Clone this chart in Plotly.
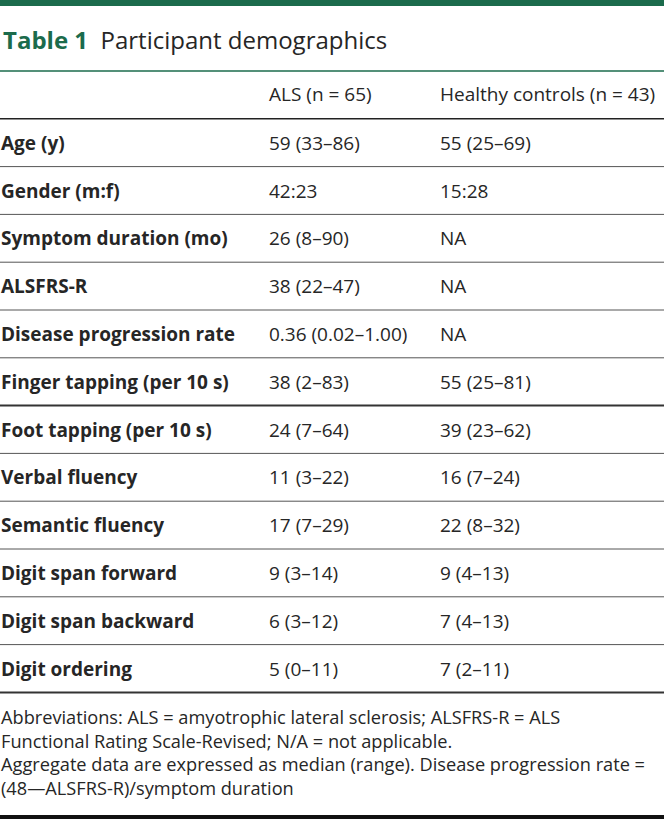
import plotly.graph_objects as go

# table content
title_num = "Table 1"
title_text = "Participant demographics"
columns = ["", "ALS (n = 65)", "Healthy controls (n = 43)"]
row_labels = [
    "Age (y)", "Gender (m:f)", "Symptom duration (mo)", "ALSFRS-R",
    "Disease progression rate", "Finger tapping (per 10 s)",
    "Foot tapping (per 10 s)", "Verbal fluency", "Semantic fluency",
    "Digit span forward", "Digit span backward", "Digit ordering",
]
als_values = [
    "59 (33–86)", "42:23", "26 (8–90)", "38 (22–47)", "0.36 (0.02–1.00)",
    "38 (2–83)", "24 (7–64)", "11 (3–22)", "17 (7–29)", "9 (3–14)",
    "6 (3–12)", "5 (0–11)",
]
hc_values = [
    "55 (25–69)", "15:28", "NA", "NA", "NA", "55 (25–81)", "39 (23–62)",
    "16 (7–24)", "22 (8–32)", "9 (4–13)", "7 (4–13)", "7 (2–11)",
]
footnotes = [
    "Abbreviations: ALS = amyotrophic lateral sclerosis; ALSFRS-R = ALS",
    "Functional Rating Scale-Revised; N/A = not applicable.",
    "Aggregate data are expressed as median (range). Disease progression rate =",
    "(48—ALSFRS-R)/symptom duration",
]

W, H = 664, 819
GREEN = "#1b6b4c"
TEXT = "#262626"
FONT = "Open Sans"
col_x = [0, 268, 439]
top = 71.0
row_h = 47.8
FS = 19

fig = go.Figure()
ann = []
shapes = []


def row_center(k):
    return top + row_h * (k + 0.5)


def add_text(x, y, text, size=FS, color=TEXT, weight="normal"):
    ann.append(dict(x=x, y=y, xref="x", yref="y", text=text, showarrow=False,
                    xanchor="left", yanchor="middle", borderpad=0, align="left",
                    font=dict(family=FONT, size=size, color=color, weight=weight)))


def hline(y, width=1, color="#444444"):
    shapes.append(dict(type="line", xref="x", yref="y", x0=0, x1=W, y0=y, y1=y,
                       line=dict(color=color, width=width)))


# top bar and title
shapes.append(dict(type="rect", xref="x", yref="y", x0=0, x1=W, y0=0, y1=6,
                   fillcolor=GREEN, line=dict(width=0)))
ann.append(dict(x=2, y=39, xref="x", yref="y", showarrow=False,
                xanchor="left", yanchor="middle", borderpad=0,
                text=(f"<span style='color:{GREEN}'><b>{title_num}</b></span>"
                      f"  {title_text}"),
                font=dict(family=FONT, size=24, color=TEXT)))
hline(top, 1.5, GREEN)

# header
for x, c in zip(col_x, columns):
    if c:
        add_text(x, row_center(0) - 1, c)
hline(top + row_h, 1.5, "#222222")

# body
for i, (lab, a, h) in enumerate(zip(row_labels, als_values, hc_values)):
    y = row_center(i + 1)
    add_text(col_x[0], y, lab, weight="bold")
    add_text(col_x[1], y, a)
    add_text(col_x[2], y, h)
    yb = top + row_h * (i + 2)
    if i == 5 or i == len(row_labels) - 1:
        hline(yb, 2, "#333333")
    else:
        hline(yb, 1, "#555555")

# footnotes, one block
add_text(0, 752, "<br>".join(footnotes), size=18.2)

shapes.append(dict(type="rect", xref="x", yref="y", x0=0, x1=W, y0=815, y1=819,
                   fillcolor="#111111", line=dict(width=0)))

fig.update_layout(
    width=W, height=H, margin=dict(l=0, r=0, t=0, b=0),
    paper_bgcolor="white", plot_bgcolor="white",
    xaxis=dict(range=[0, W], visible=False, fixedrange=True),
    yaxis=dict(range=[H, 0], visible=False, fixedrange=True),
    annotations=ann, shapes=shapes, showlegend=False,
)

fig.write_html("out.html", config={"displayModeBar": False},
               post_script="document.body.style.margin='0';")
